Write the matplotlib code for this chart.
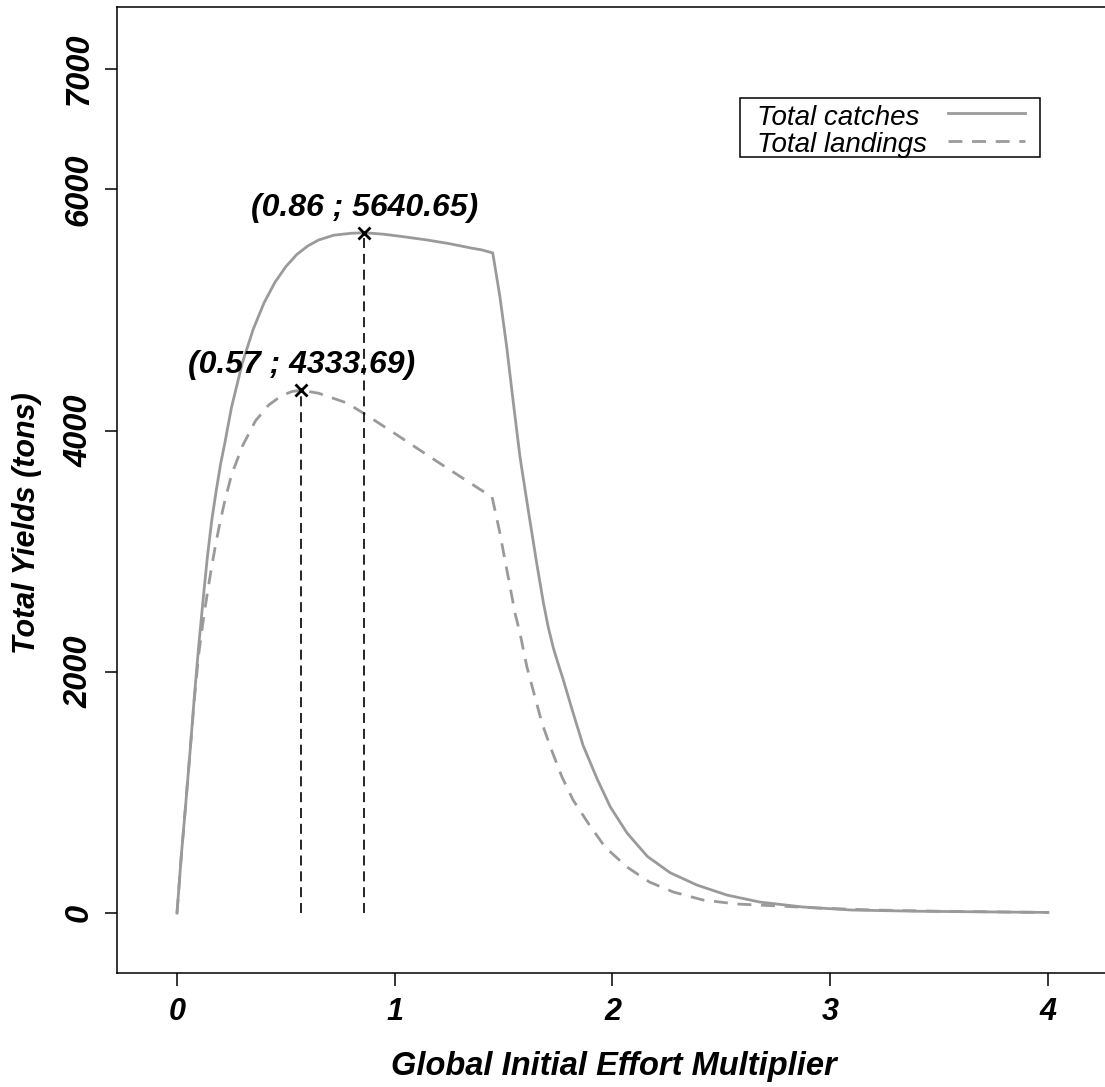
import matplotlib
matplotlib.use("Agg")
import matplotlib.pyplot as plt
from matplotlib.lines import Line2D
from matplotlib.patches import Rectangle

# ---- data ----
catch_x = [0, 0.02, 0.04, 0.06, 0.08, 0.10, 0.12, 0.14, 0.16, 0.18, 0.20, 0.22, 0.25,
           0.30, 0.35, 0.40, 0.45, 0.50, 0.55, 0.60, 0.65, 0.72, 0.80, 0.86, 0.95,
           1.05, 1.15, 1.25, 1.35, 1.40, 1.45, 1.483, 1.514, 1.545, 1.575, 1.614,
           1.652, 1.683, 1.705, 1.728, 1.75, 1.773, 1.814, 1.865, 1.93, 1.99, 2.067,
           2.16, 2.264, 2.388, 2.526, 2.677, 2.875, 3.10, 3.40, 3.70, 4.00]
catch_y = [0, 480, 900, 1340, 1800, 2220, 2600, 2960, 3260, 3500, 3720, 3900, 4190,
           4560, 4840, 5060, 5230, 5360, 5460, 5530, 5580, 5620, 5636, 5640.65, 5628,
           5605, 5580, 5550, 5514, 5498, 5473, 5110, 4696, 4226, 3784, 3330,
           2900, 2570, 2370, 2200, 2070, 1940, 1690, 1390, 1110, 880, 663,
           470, 335, 232, 149, 91, 50, 25, 15, 10, 5]

land_x = [0, 0.02, 0.04, 0.06, 0.08, 0.10, 0.12, 0.14, 0.16, 0.18, 0.20, 0.22, 0.25,
          0.30, 0.36, 0.42, 0.48, 0.53, 0.57, 0.65, 0.78, 0.87, 1.00, 1.20, 1.40,
          1.447, 1.483, 1.506, 1.53, 1.552, 1.575, 1.607, 1.644, 1.676, 1.72, 1.768,
          1.819, 1.888, 1.966, 2.067, 2.17, 2.28, 2.416, 2.57, 2.77, 2.95, 3.20,
          3.50, 3.75, 4.00]
land_y = [0, 480, 900, 1340, 1780, 2150, 2420, 2660, 2880, 3080, 3260, 3420, 3630,
          3870, 4080, 4210, 4290, 4325, 4333.69, 4310, 4229, 4129, 3976, 3737, 3503,
          3450, 3151, 2927, 2703, 2488, 2322, 2040, 1791, 1575, 1352, 1128,
          937, 746, 547, 381, 257, 174, 108, 75, 58, 41, 25,
          15, 10, 5]

peak_x = [0.86, 0.57]
peak_y = [5640.65, 4333.69]
peak_labels = ["(0.86 ; 5640.65)", "(0.57 ; 4333.69)"]

x_ticks = [0, 1, 2, 3, 4]
y_ticks = [0, 2000, 4000, 6000, 7000]
series_labels = ["Total catches", "Total landings"]

GRAY = "#9a9a9a"
FONT = "Liberation Sans"
LW = 2.0
DASH = (5, 3.5)

fig = plt.figure(figsize=(11.05, 10.87), dpi=100)
W, H = 1105, 1087
AX_L, AX_R, AX_T, AX_B = 117, 1115, 7, 973
ax = fig.add_axes([AX_L / W, (H - AX_B) / H, (AX_R - AX_L) / W, (AX_B - AX_T) / H])


def axx(px):
    return (px - AX_L) / (AX_R - AX_L)


def axy(py):
    return (AX_B - py) / (AX_B - AX_T)


ax.plot(catch_x, catch_y, color=GRAY, lw=LW)
ax.plot(land_x, land_y, color=GRAY, lw=LW, dashes=DASH)

for px, py, lab in zip(peak_x, peak_y, peak_labels):
    ax.plot([px, px], [0, py], color="black", lw=1.2, dashes=(6, 3.5))
    ax.plot([px], [py], marker="x", color="black", ms=8, mew=2)
    ax.annotate(lab, (px, py), xytext=(0, 18), textcoords="offset points",
                ha="center", va="center", fontsize=23, fontfamily=FONT,
                fontweight="bold", fontstyle="italic")

ax.set_xlim(-0.2755, 4.3077)
ax.set_ylim(-497, 7512)

ax.set_xticks(x_ticks)
ax.set_xticklabels([str(v) for v in x_ticks])
ax.set_yticks(y_ticks)
ax.set_yticklabels([str(v) for v in y_ticks], rotation=90, va="center")
for lab in ax.get_xticklabels():
    lab.set_fontfamily(FONT)
    lab.set_fontweight("bold")
    lab.set_fontstyle("italic")
    lab.set_fontsize(22)
for lab in ax.get_yticklabels():
    lab.set_fontfamily(FONT)
    lab.set_fontweight("bold")
    lab.set_fontstyle("italic")
    lab.set_fontsize(23.5)
ax.tick_params(axis="both", direction="out", length=9, width=1.1)
ax.tick_params(axis="x", pad=8)
ax.tick_params(axis="y", pad=7)

for s in ["left", "top", "bottom"]:
    ax.spines[s].set_linewidth(1.1)
ax.spines["right"].set_visible(False)

ax.set_xlabel("Global Initial Effort Multiplier", fontsize=23.5, fontfamily=FONT,
              fontweight="bold", fontstyle="italic")
ax.xaxis.set_label_coords(axx(614), axy(1066))
ax.xaxis.label.set_va("center")
ax.set_ylabel("Total Yields (tons)", fontsize=22, fontfamily=FONT,
              fontweight="bold", fontstyle="italic")
ax.yaxis.set_label_coords(axx(27), axy(523))
ax.yaxis.label.set_va("center")

# legend (text on the left, line sample on the right, as in the reference)
ax.add_patch(Rectangle((axx(740), axy(157)), axx(1040) - axx(740), axy(98) - axy(157),
                       transform=ax.transAxes, fill=True, facecolor="white",
                       edgecolor="black", lw=1.1, zorder=5))
leg_rows = [(125, 113, None), (152, 141, DASH)]
for lab, (base_y, line_y, dash) in zip(series_labels, leg_rows):
    ax.text(axx(757), axy(base_y), lab, transform=ax.transAxes, ha="left",
            va="baseline", fontsize=20, fontfamily=FONT, fontstyle="italic", zorder=6)
    kw = {"dashes": dash} if dash else {}
    ax.add_line(Line2D([axx(948), axx(1025)], [axy(line_y), axy(line_y)],
                       transform=ax.transAxes, color=GRAY, lw=LW, zorder=6, **kw))

fig.savefig("out.png", dpi=100)
